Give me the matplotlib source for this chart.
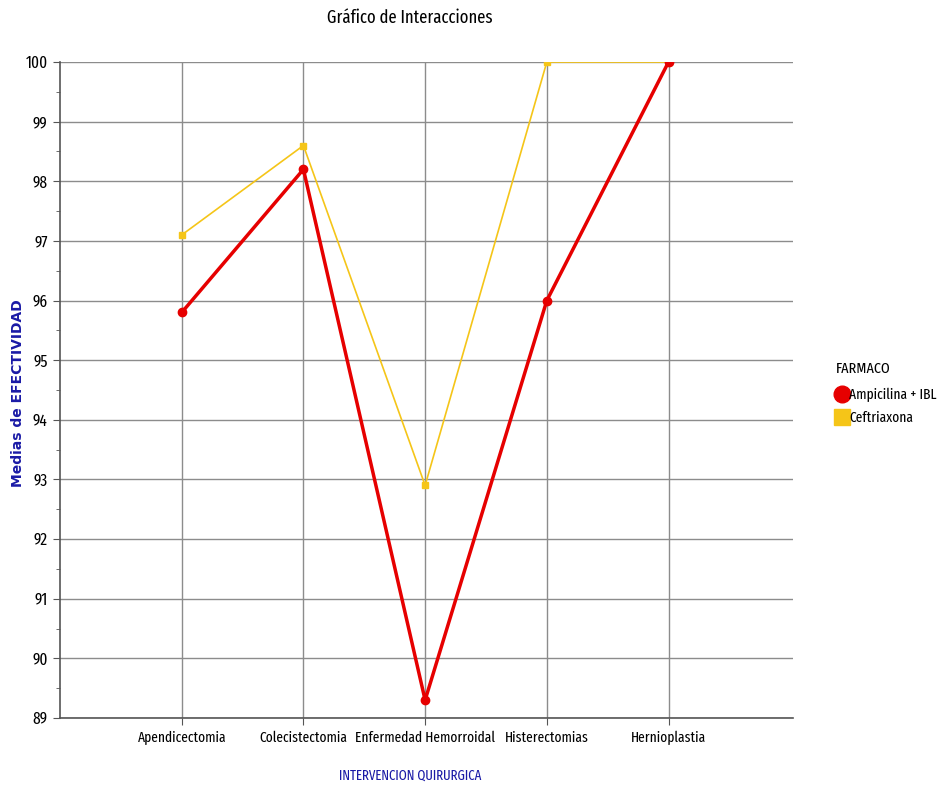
import matplotlib.pyplot as plt
from matplotlib.lines import Line2D

# --- Datos ---
intervenciones = ["Apendicectomia", "Colecistectomia", "Enfermedad Hemorroidal",
                  "Histerectomias", "Hernioplastia"]
ampicilina = [95.8, 98.2, 89.3, 96.0, 100.0]
ceftriaxona = [97.1, 98.6, 92.9, 100.0, 100.0]
y_ticks = list(range(89, 101))

# fuente estrecha, como en el original
plt.rcParams["font.family"] = ["Fira Sans Extra Condensed", "Roboto Condensed", "DejaVu Sans"]

rojo = "#e60000"
amarillo = "#f5c518"
azul = "#1a1aa6"

fig = plt.figure(figsize=(9.47, 7.87), dpi=100)
ax = fig.add_axes([0.0634, 0.0877, 0.7736, 0.8335])

x = list(range(len(intervenciones)))
ax.plot(x, ceftriaxona, color=amarillo, lw=1.2, marker="s", ms=5, zorder=3)
ax.plot(x, ampicilina, color=rojo, lw=2.5, marker="o", ms=6, zorder=4)

ax.set_xlim(-1, 5.02)
ax.set_ylim(89, 100)
ax.set_xticks(x)
ax.set_xticklabels(intervenciones, fontsize=10.5)
ax.set_yticks(y_ticks)
ax.set_yticklabels([str(v) for v in y_ticks], fontsize=12)
ax.set_yticks([v + 0.5 for v in y_ticks[:-1]], minor=True)
ax.tick_params(axis="y", which="minor", length=3, color="#555555")
ax.tick_params(axis="both", which="major", length=5, color="#555555", pad=4)

ax.grid(True, color="#8c8c8c", lw=1)
ax.set_axisbelow(True)
for s in ["top", "right"]:
    ax.spines[s].set_visible(False)
for s in ["left", "bottom"]:
    ax.spines[s].set_color("#555555")
    ax.spines[s].set_linewidth(1.2)

fig.text(0.433, 0.977, "Gráfico de Interacciones", ha="center", va="center", fontsize=13)
fig.text(0.433, 0.015, "INTERVENCION QUIRURGICA", ha="center", va="center",
         fontsize=10, color=azul)
fig.text(0.019, 0.5, "Medias de EFECTIVIDAD", ha="center", va="center", rotation=90,
         fontsize=10, color=azul, fontweight="bold", family="DejaVu Sans")

handles = [Line2D([], [], color=rojo, marker="o", ls="none", ms=12),
           Line2D([], [], color=amarillo, marker="s", ls="none", ms=12)]
leg = fig.legend(handles, ["Ampicilina + IBL", "Ceftriaxona"], title="FARMACO",
                 loc="upper left", bbox_to_anchor=(0.883, 0.541), frameon=False,
                 fontsize=10.5, title_fontsize=11, handletextpad=0.1,
                 handlelength=0.8, borderaxespad=0, labelspacing=0.55,
                 borderpad=0)
leg._legend_box.align = "left"
leg._legend_box.sep = 9

fig.savefig("out.png", dpi=100)
